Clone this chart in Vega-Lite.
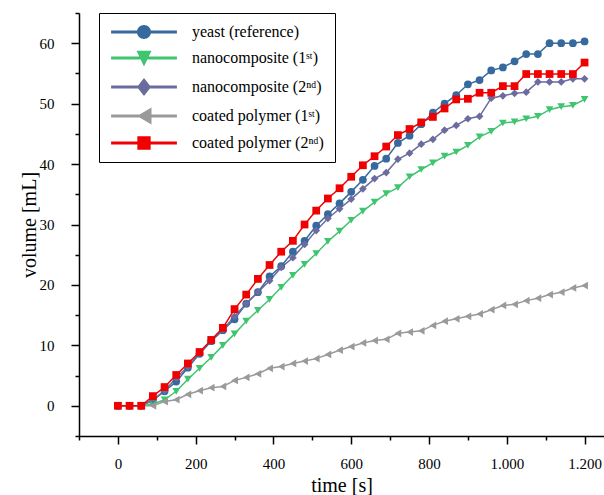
{
  "$schema": "https://vega.github.io/schema/vega-lite/v6.json",
  "width": 525,
  "height": 423,
  "autosize": "none",
  "padding": {"left": 79, "top": 13, "right": 0, "bottom": 59},
  "background": "white",
  "config": {"view": {"stroke": null}},
  "data": {"values": [
    {"t": 0, "yeast": 0, "nano1": 0, "nano2": 0, "coat1": 0, "coat2": 0},
    {"t": 30, "yeast": 0, "nano1": 0, "nano2": 0, "coat1": 0, "coat2": 0},
    {"t": 60, "yeast": 0, "nano1": 0, "nano2": 0, "coat1": 0, "coat2": 0},
    {"t": 90, "yeast": 0.9, "nano1": 0.3, "nano2": 1.0, "coat1": 0, "coat2": 1.6},
    {"t": 120, "yeast": 2.4, "nano1": 1.0, "nano2": 2.5, "coat1": 0.7, "coat2": 3.1},
    {"t": 150, "yeast": 4.0, "nano1": 2.4, "nano2": 4.6, "coat1": 1.0, "coat2": 5.1},
    {"t": 180, "yeast": 6.3, "nano1": 4.4, "nano2": 6.5, "coat1": 1.9, "coat2": 7.0},
    {"t": 210, "yeast": 8.6, "nano1": 6.2, "nano2": 8.7, "coat1": 2.5, "coat2": 8.9},
    {"t": 240, "yeast": 10.7, "nano1": 8.0, "nano2": 10.8, "coat1": 3.0, "coat2": 10.9},
    {"t": 270, "yeast": 12.5, "nano1": 10.0, "nano2": 12.6, "coat1": 3.2, "coat2": 12.9},
    {"t": 300, "yeast": 14.3, "nano1": 11.9, "nano2": 14.8, "coat1": 4.2, "coat2": 16.0},
    {"t": 330, "yeast": 16.9, "nano1": 14.0, "nano2": 16.9, "coat1": 4.7, "coat2": 18.4},
    {"t": 360, "yeast": 18.8, "nano1": 15.8, "nano2": 18.8, "coat1": 5.3, "coat2": 21.0},
    {"t": 390, "yeast": 21.4, "nano1": 17.6, "nano2": 20.7, "coat1": 6.2, "coat2": 23.3},
    {"t": 420, "yeast": 23.1, "nano1": 19.6, "nano2": 22.9, "coat1": 6.5, "coat2": 25.5},
    {"t": 450, "yeast": 25.5, "nano1": 21.6, "nano2": 24.5, "coat1": 7.0, "coat2": 27.3},
    {"t": 480, "yeast": 27.3, "nano1": 23.4, "nano2": 26.7, "coat1": 7.4, "coat2": 30.0},
    {"t": 510, "yeast": 29.8, "nano1": 25.2, "nano2": 29.0, "coat1": 7.8, "coat2": 32.3},
    {"t": 540, "yeast": 31.7, "nano1": 27.2, "nano2": 31.0, "coat1": 8.5, "coat2": 34.3},
    {"t": 570, "yeast": 33.5, "nano1": 28.9, "nano2": 32.6, "coat1": 9.2, "coat2": 36.0},
    {"t": 600, "yeast": 35.4, "nano1": 30.7, "nano2": 34.2, "coat1": 9.8, "coat2": 37.9},
    {"t": 630, "yeast": 37.4, "nano1": 32.2, "nano2": 35.9, "coat1": 10.4, "coat2": 39.8},
    {"t": 660, "yeast": 39.7, "nano1": 33.7, "nano2": 37.6, "coat1": 10.8, "coat2": 41.3},
    {"t": 690, "yeast": 40.9, "nano1": 35.1, "nano2": 38.6, "coat1": 11.0, "coat2": 42.9},
    {"t": 720, "yeast": 43.5, "nano1": 36.1, "nano2": 40.8, "coat1": 12.0, "coat2": 44.8},
    {"t": 750, "yeast": 44.7, "nano1": 37.9, "nano2": 41.8, "coat1": 12.2, "coat2": 45.8},
    {"t": 780, "yeast": 46.6, "nano1": 39.1, "nano2": 43.3, "coat1": 12.4, "coat2": 46.9},
    {"t": 810, "yeast": 48.5, "nano1": 40.2, "nano2": 44.1, "coat1": 13.3, "coat2": 47.8},
    {"t": 840, "yeast": 50.0, "nano1": 41.3, "nano2": 45.6, "coat1": 14.0, "coat2": 49.2},
    {"t": 870, "yeast": 51.4, "nano1": 42.0, "nano2": 46.4, "coat1": 14.4, "coat2": 50.7},
    {"t": 900, "yeast": 53.2, "nano1": 43.1, "nano2": 47.5, "coat1": 14.8, "coat2": 50.8},
    {"t": 930, "yeast": 53.9, "nano1": 44.5, "nano2": 47.9, "coat1": 15.2, "coat2": 51.8},
    {"t": 960, "yeast": 55.5, "nano1": 45.4, "nano2": 50.9, "coat1": 15.9, "coat2": 51.8},
    {"t": 990, "yeast": 56.0, "nano1": 46.8, "nano2": 51.3, "coat1": 16.6, "coat2": 52.9},
    {"t": 1020, "yeast": 57.0, "nano1": 47.0, "nano2": 51.7, "coat1": 16.8, "coat2": 52.9},
    {"t": 1050, "yeast": 58.2, "nano1": 47.5, "nano2": 51.9, "coat1": 17.4, "coat2": 54.9},
    {"t": 1080, "yeast": 58.2, "nano1": 47.9, "nano2": 53.6, "coat1": 17.8, "coat2": 54.9},
    {"t": 1110, "yeast": 60.0, "nano1": 49.0, "nano2": 53.6, "coat1": 18.4, "coat2": 54.9},
    {"t": 1140, "yeast": 60.0, "nano1": 49.5, "nano2": 53.6, "coat1": 18.8, "coat2": 54.9},
    {"t": 1170, "yeast": 60.0, "nano1": 49.7, "nano2": 54.1, "coat1": 19.5, "coat2": 54.9},
    {"t": 1200, "yeast": 60.3, "nano1": 50.7, "nano2": 54.1, "coat1": 19.9, "coat2": 56.8}
  ]},
  "transform": [{"fold": ["yeast", "nano1", "nano2", "coat1", "coat2"], "as": ["s", "v"]}],
  "encoding": {
    "x": {
      "field": "t", "type": "quantitative",
      "scale": {"domain": [-100, 1250], "nice": false, "zero": false},
      "axis": {
        "values": [-100, 0, 100, 200, 300, 400, 500, 600, 700, 800, 900, 1000, 1100, 1200],
        "labelExpr": "datum.value % 200 === 0 ? replace(format(datum.value, ','), ',', '.') : ''",
        "tickSize": {"condition": {"test": "datum.value % 200 === 0", "value": 8}, "value": 4},
        "grid": false,
        "domainColor": "black", "domainWidth": 1.5,
        "tickColor": "black", "tickWidth": 1.5,
        "labelFont": "Liberation Serif", "labelFontSize": 15, "labelColor": "black",
        "labelPadding": 12, "labelFlush": false, "labelOverlap": false,
        "title": "time [s]", "titleFont": "Liberation Serif", "titleFontSize": 20,
        "titleFontWeight": "normal", "titleColor": "black", "titlePadding": 4
      }
    },
    "y": {
      "field": "v", "type": "quantitative",
      "scale": {"domain": [-5, 65], "nice": false, "zero": false},
      "axis": {
        "values": [-5, 0, 5, 10, 15, 20, 25, 30, 35, 40, 45, 50, 55, 60, 65],
        "labelExpr": "datum.value % 10 === 0 ? datum.value : ''",
        "tickSize": {"condition": {"test": "datum.value % 10 === 0", "value": 8}, "value": 4},
        "grid": false,
        "domainColor": "black", "domainWidth": 1.5,
        "tickColor": "black", "tickWidth": 1.5,
        "labelFont": "Liberation Serif", "labelFontSize": 15, "labelColor": "black",
        "labelPadding": 17, "labelFlush": false, "labelOverlap": false,
        "title": "volume [mL]", "titleFont": "Liberation Serif", "titleFontSize": 20,
        "titleFontWeight": "normal", "titleColor": "black", "titlePadding": 0
      }
    }
  },
  "layer": [
    {
      "mark": {"type": "line", "strokeWidth": 1.5},
      "encoding": {
        "stroke": {
          "field": "s", "type": "nominal",
          "scale": {"domain": ["yeast", "nano1", "nano2", "coat1", "coat2"], "range": ["#366a9e", "#3fc46f", "#6b6b9f", "#9a9a9a", "#f00000"]}
        }
      }
    },
    {
      "mark": {"type": "point", "filled": true, "size": 60, "opacity": 1, "strokeWidth": 0},
      "encoding": {
        "shape": {
          "field": "s", "type": "nominal",
          "scale": {"domain": ["coat2", "yeast", "nano1", "nano2", "coat1"], "range": ["square", "circle", "triangle-down", "diamond", "triangle-left"]},
          "legend": null
        },
        "fill": {
          "field": "s", "type": "nominal",
          "scale": {"domain": ["yeast", "nano1", "nano2", "coat1", "coat2"], "range": ["#366a9e", "#3fc46f", "#6b6b9f", "#9a9a9a", "#f00000"]},
          "legend": {
            "orient": "none", "legendX": 20, "legendY": 0,
            "title": null,
            "padding": 11,
            "strokeColor": "black", "fillColor": "white",
            "symbolSize": 196, "symbolOffset": 26, "labelOffset": 40,
            "symbolStrokeWidth": 0, "symbolOpacity": 1,
            "rowPadding": 10,
            "labelFont": "Liberation Serif", "labelFontSize": 16, "labelColor": "black", "labelLimit": 300,
            "labelExpr": "{'yeast': 'yeast (reference)', 'nano1': 'nanocomposite (1ˢᵗ)', 'nano2': 'nanocomposite (2ⁿᵈ)', 'coat1': 'coated polymer (1ˢᵗ)', 'coat2': 'coated polymer (2ⁿᵈ)'}[datum.label]",
            "encode": {
              "symbols": {
                "update": {
                  "shape": {"signal": "{'yeast': 'M-4.7,-0.2H4.7V0.2H-4.7ZM-1,0A1,1,0,1,1,1,0A1,1,0,1,1,-1,0Z', 'nano1': 'M-4.7,-0.2H4.7V0.2H-4.7ZM-1.07,-1.05L1.07,-1.05L0,1.2Z', 'nano2': 'M-4.7,-0.2H4.7V0.2H-4.7ZM0,-1.3L1,0L0,1.3L-1,0Z', 'coat1': 'M-4.7,-0.2H4.7V0.2H-4.7ZM-1,0L1.07,-1.2L1.07,1.2Z', 'coat2': 'M-4.7,-0.2H4.7V0.2H-4.7ZM-0.95,-0.95H0.95V0.95H-0.95Z'}[datum.value]"}
                }
              }
            }
          }
        }
      }
    }
  ]
}
